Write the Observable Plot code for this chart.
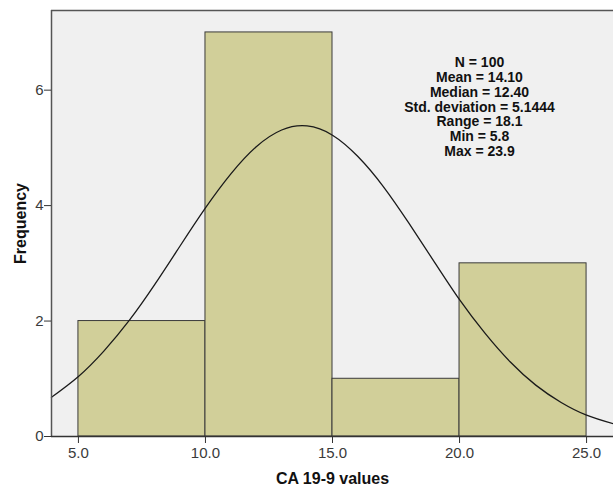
<!DOCTYPE html>
<html>
<head>
<meta charset="utf-8">
<script src="https://cdn.jsdelivr.net/npm/d3@7"></script>
<script src="https://cdn.jsdelivr.net/npm/@observablehq/plot@0.6"></script>
<style>
  html, body { margin: 0; padding: 0; background: #fff; }
  #chart svg { font-family: "Liberation Sans", Arial, sans-serif; }
  #chart [aria-label="x-axis tick label"] text,
  #chart [aria-label="y-axis tick label"] text { fill: #3a3a3a; }
</style>
</head>
<body>
<div id="chart"></div>
<script>
// Histogram bins (CA 19-9 values) and frequencies
const binStart = [5, 10, 15, 20];
const binEnd   = [10, 15, 20, 25];
const counts   = [2, 7, 1, 3];

// Normal curve
const curveX = [3.94, 5, 6, 7, 8, 9, 10, 11, 12, 13, 14, 15, 16, 17, 18, 19, 20, 21, 22, 23, 24, 25, 26.06];
const curveY = [0.68, 1.04, 1.48, 2.01, 2.63, 3.30, 3.96, 4.55, 5.02, 5.31, 5.38, 5.22, 4.85, 4.33, 3.70, 3.03, 2.37, 1.79, 1.29, 0.89, 0.59, 0.37, 0.22];

const xTicks = [5, 10, 15, 20, 25];
const yTicks = [0, 2, 4, 6];
const xDomain = [3.94, 26.06];
const yDomain = [0, 7.38];

const statsLines = [
  "N = 100",
  "Mean = 14.10",
  "Median = 12.40",
  "Std. deviation = 5.1444",
  "Range = 18.1",
  "Min = 5.8",
  "Max = 23.9"
];
const xLabel = "CA 19-9 values";
const yLabel = "Frequency";

const bins = binStart.map((s, i) => ({x1: s, x2: binEnd[i], y: counts[i]}));
const curve = curveX.map((x, i) => ({x, y: curveY[i]}));

const chart = Plot.plot({
  width: 613,
  height: 492,
  marginLeft: 51,
  marginRight: 0,
  marginTop: 10,
  marginBottom: 56,
  style: {fontSize: "15px", fontFamily: "'Liberation Sans', Arial, sans-serif", background: "#fff"},
  x: {domain: xDomain},
  y: {domain: yDomain},
  marks: [
    Plot.frame({fill: "#f0f0f0", stroke: null}),
    Plot.rectY(bins, {x1: "x1", x2: "x2", y1: 0, y2: "y", fill: "#d1cf99", stroke: "#3a3a3a", strokeWidth: 1}),
    Plot.line(curve, {x: "x", y: "y", curve: "natural", stroke: "#1a1a1a", strokeWidth: 1.3}),
    Plot.ruleY([yDomain[1]], {stroke: "#555", strokeWidth: 1.5}),
    Plot.ruleX([xDomain[0]], {stroke: "#555", strokeWidth: 1.5}),
    Plot.ruleY([0], {stroke: "#333", strokeWidth: 1.5}),
    Plot.axisX({ticks: xTicks, tickFormat: d3.format(".1f"), tickSize: 7, tickPadding: 4, label: null, stroke: "#333", fontSize: 15}),
    Plot.axisY({ticks: yTicks, tickFormat: d3.format("d"), tickSize: 7, tickPadding: 1, label: null, stroke: "#333", fontSize: 15}),
    Plot.text([statsLines.join("\n")], {
      frameAnchor: "top", dx: 147, dy: 46, lineAnchor: "top", lineHeight: 1.06,
      fontWeight: "bold", fontSize: 14, fill: "#111"
    }),
    Plot.text([xLabel], {frameAnchor: "bottom", dy: 47, fontWeight: "bold", fontSize: 16, fill: "#111"}),
    Plot.text([yLabel], {frameAnchor: "left", textAnchor: "middle", dx: -31, rotate: -90, fontWeight: "bold", fontSize: 16, fill: "#111"})
  ]
});
document.getElementById("chart").appendChild(chart);
</script>
</body>
</html>
